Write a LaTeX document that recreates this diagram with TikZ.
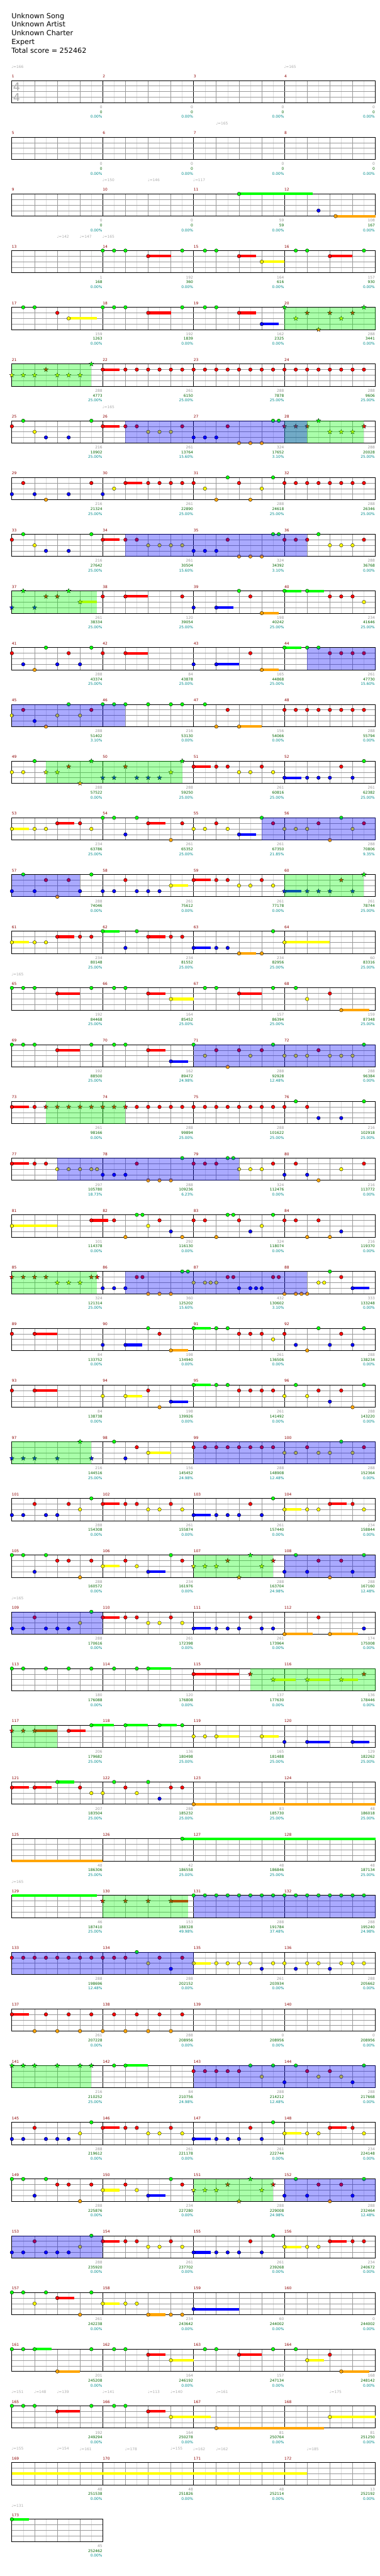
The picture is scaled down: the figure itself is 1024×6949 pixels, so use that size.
\documentclass[tikz,border=0pt]{standalone}
\usepackage{fontspec}
\setmainfont{DejaVu Sans}
\usetikzlibrary{shapes.geometric}
\definecolor{lane0}{RGB}{0,255,0}
\definecolor{lane1}{RGB}{255,0,0}
\definecolor{lane2}{RGB}{255,255,0}
\definecolor{lane3}{RGB}{0,0,255}
\definecolor{lane4}{RGB}{255,165,0}
\definecolor{mred}{RGB}{139,0,0}
\definecolor{mgrey}{RGB}{150,150,150}
\definecolor{mgreen}{RGB}{0,100,0}
\definecolor{mteal}{RGB}{0,139,139}

% notes of one row: position (16ths from row start) / lane
\newcommand\notes[2]{%
  \foreach \xu/\ly in {#2}{%
    \node[note, fill=lane\ly] (n#1-\xu-\ly) at ({32+15.3125*\xu},{217+153*#1+15*\ly}) {};}}
\newcommand\starnotes[2]{%
  \foreach \xu/\ly in {#2}{%
    \node[snote, fill=lane\ly] (s#1-\xu-\ly) at ({32+15.3125*\xu},{217+153*#1+15*\ly}) {};}}
% sustains: lane / start / end
\newcommand\holds[2]{%
  \foreach \ly/\xa/\xb in {#2}{%
    \fill[lane\ly] ({32+15.3125*\xa},{217+153*#1+15*\ly-3.5}) rectangle ({32+15.3125*\xb},{217+153*#1+15*\ly+3.5});}}
\newcommand\phrasebox[3]{\fill[spzone] ({32+15.3125*#2},{217+153*#1}) rectangle ({32+15.3125*#3},{277+153*#1});}
\newcommand\actbox[3]{\fill[actzone] ({32+15.3125*#2},{217+153*#1}) rectangle ({32+15.3125*#3},{277+153*#1});}

\begin{document}
\begin{tikzpicture}[x=1pt, y=-1pt,
  note/.style={circle, draw=black, line width=0.6pt, inner sep=0pt, minimum size=9.6pt},
  snote/.style={star, star points=5, star point ratio=2.4, draw=black, line width=0.5pt,
                inner sep=0pt, minimum size=13pt},
  halfline/.style={draw=black!13, line width=0.8pt},
  beatline/.style={draw=black!40, line width=1pt},
  barline/.style={draw=black, line width=1pt},
  staffbox/.style={draw=black, line width=1.3pt},
  spzone/.style={fill=lane0, fill opacity=0.333},
  actzone/.style={fill=lane3, fill opacity=0.333},
  title/.style={font=\fontsize{19}{23}\selectfont, anchor=base west, inner sep=0pt},
  mnum/.style={font=\fontsize{10}{12}\selectfont, text=mred, anchor=west, inner sep=0pt},
  msc/.style={font=\fontsize{10}{12}\selectfont, text=mgrey, anchor=east, inner sep=0pt},
  mcum/.style={font=\fontsize{10}{12}\selectfont, text=mgreen, anchor=east, inner sep=0pt},
  mpct/.style={font=\fontsize{10}{12}\selectfont, text=mteal, anchor=east, inner sep=0pt},
  tempo/.style={font=\fontsize{10}{12}\selectfont, text=black!33, anchor=west, inner sep=0pt},
  tsig/.style={font=\fontsize{30}{30}\selectfont, text=black!33, inner sep=0pt},
]
\useasboundingbox (0,0) rectangle (1024,6949);

% header
\node[title] (song) at (31,49.3) {Unknown Song};
\node[title] (artist) at (31,72.7) {Unknown Artist};
\node[title] (charter) at (31,96) {Unknown Charter};
\node[title] (diff) at (31,119.3) {Expert};
\node[title] (total) at (31,142.7) {Total score = 252462};

% staves
\foreach \r in {0,...,43}{
  \pgfmathtruncatemacro\nm{\r==43 ? 1 : 4}
  \pgfmathsetmacro\ty{217+153*\r}
  \pgfmathsetmacro\rx{32+245*\nm}
  \pgfmathtruncatemacro\nj{8*\nm-1}
  \foreach \j in {1,...,\nj}{
    \pgfmathtruncatemacro\jm{mod(\j,8)}
    \pgfmathtruncatemacro\jb{mod(\j,2)}
    \ifnum\jm=0 \def\gs{barline}\else\ifnum\jb=0 \def\gs{beatline}\else\def\gs{halfline}\fi\fi
    \draw[\gs] ({32+30.625*\j},\ty) -- ({32+30.625*\j},{\ty+60});
  }
  \foreach \k in {1,2,3}
    \draw[beatline] (32,{\ty+15*\k}) -- (\rx,{\ty+15*\k});
  \draw[staffbox] (32,\ty) rectangle (\rx,{\ty+60});
}
\node[tsig] (ts1) at (45,233.5) {4};
\node[tsig] (ts2) at (45,263.5) {4};

% tempo changes: row / position / bpm
\foreach \r/\xu/\tp in {0/0/166, 0/48/165, 1/36/165, 2/16/150, 2/24/146, 2/32/117,
    3/8/142, 3/12/147, 3/16/165, 6/16/165, 16/0/165, 27/0/165, 32/0/165,
    41/0/151, 41/4/148, 41/8/139, 41/16/141, 41/24/113, 41/28/140, 41/36/161, 41/56/175,
    42/0/155, 42/8/154, 42/12/161, 42/20/178, 42/28/155, 42/32/162, 42/36/162, 42/52/185,
    43/0/131} {
  \node[tempo] (t\r-\xu) at ({31+15.3125*\xu},{180+153*\r}) {♩=\tp};
}

% measure numbers and scores
\foreach \m/\ms/\cu/\pc in {1/0/0/0.00, 2/0/0/0.00, 3/0/0/0.00, 4/0/0/0.00,
    5/0/0/0.00, 6/0/0/0.00, 7/0/0/0.00, 8/0/0/0.00,
    9/0/0/0.00, 10/0/0/0.00, 11/59/59/0.00, 12/108/167/0.00,
    13/1/168/0.00, 14/192/360/0.00, 15/164/616/0.00, 16/157/930/0.00,
    17/159/1263/0.00, 18/192/1839/0.00, 19/162/2325/0.00, 20/288/3441/0.00,
    21/288/4773/25.00, 22/261/6150/25.00, 23/288/7878/25.00, 24/288/9606/25.00,
    25/216/10902/25.00, 26/261/13764/15.60, 27/324/17652/3.10, 28/288/20028/25.00,
    29/216/21324/25.00, 30/261/22890/25.00, 31/288/24618/25.00, 32/288/26346/25.00,
    33/216/27642/25.00, 34/261/30504/15.60, 35/324/34392/3.10, 36/288/36768/0.00,
    37/261/38334/25.00, 38/120/39054/25.00, 39/198/40242/25.00, 40/234/41646/25.00,
    41/288/43374/25.00, 42/84/43878/25.00, 43/165/44868/25.00, 44/261/47730/15.60,
    45/288/51402/3.10, 46/216/53130/0.00, 47/156/54066/0.00, 48/288/55794/0.00,
    49/288/57522/0.00, 50/288/59250/25.00, 51/261/60816/25.00, 52/261/62382/25.00,
    53/234/63786/25.00, 54/261/65352/25.00, 55/261/67350/21.85, 56/288/70806/9.35,
    57/288/74046/0.00, 58/261/75612/0.00, 59/261/77178/0.00, 60/261/78744/25.00,
    61/234/80148/25.00, 62/234/81552/25.00, 63/234/82956/25.00, 64/60/83316/25.00,
    65/192/84468/25.00, 66/164/85452/25.00, 67/157/86394/25.00, 68/159/87348/25.00,
    69/192/88500/25.00, 70/162/89472/24.98, 71/288/92928/12.48, 72/288/96384/0.00,
    73/261/98166/0.00, 74/288/99894/25.00, 75/288/101622/25.00, 76/216/102918/25.00,
    77/297/105780/18.73, 78/288/109236/6.23, 79/324/112476/0.00, 80/216/113772/0.00,
    81/101/114378/0.00, 82/292/116130/0.00, 83/324/118074/0.00, 84/216/119370/0.00,
    85/324/121314/25.00, 86/360/125202/15.60, 87/432/130602/3.10, 88/333/133248/0.00,
    89/84/133752/0.00, 90/198/134940/0.00, 91/261/136506/0.00, 92/288/138234/0.00,
    93/84/138738/0.00, 94/198/139926/0.00, 95/261/141492/0.00, 96/288/143220/0.00,
    97/216/144516/25.00, 98/156/145452/24.98, 99/288/148908/12.48, 100/288/152364/0.00,
    101/288/154308/0.00, 102/261/155874/0.00, 103/261/157440/0.00, 104/234/158844/0.00,
    105/288/160572/0.00, 106/234/161976/0.00, 107/288/163704/24.98, 108/288/167160/12.48,
    109/288/170616/0.00, 110/261/172398/0.00, 111/261/173964/0.00, 112/174/175008/0.00,
    113/180/176088/0.00, 114/120/176808/0.00, 115/137/177630/0.00, 116/136/178446/0.00,
    117/206/179682/25.00, 118/136/180498/25.00, 119/165/181488/25.00, 120/129/182262/25.00,
    121/207/183504/25.00, 122/288/185232/25.00, 123/83/185730/25.00, 124/48/186018/25.00,
    125/48/186306/25.00, 126/42/186558/25.00, 127/48/186846/25.00, 128/48/187134/25.00,
    129/46/187410/25.00, 130/153/188328/49.98, 131/288/191784/37.48, 132/288/195240/24.98,
    133/288/198696/12.48, 134/288/202152/0.00, 135/261/203934/0.00, 136/288/205662/0.00,
    137/261/207228/0.00, 138/288/208956/0.00, 139/0/208956/0.00, 140/0/208956/0.00,
    141/216/210252/25.00, 142/84/210756/24.98, 143/288/214212/12.48, 144/288/217668/0.00,
    145/288/219612/0.00, 146/261/221178/0.00, 147/261/222744/0.00, 148/234/224148/0.00,
    149/288/225876/0.00, 150/234/227280/0.00, 151/288/229008/24.98, 152/288/232464/12.48,
    153/288/235920/0.00, 154/261/237702/0.00, 155/261/239268/0.00, 156/234/240672/0.00,
    157/261/242238/0.00, 158/234/243642/0.00, 159/60/244002/0.00, 160/0/244002/0.00,
    161/201/245208/0.00, 162/164/246192/0.00, 163/157/247134/0.00, 164/168/248142/0.00,
    165/192/249294/0.00, 166/164/250278/0.00, 167/81/250764/0.00, 168/81/251250/0.00,
    169/48/251538/0.00, 170/48/251826/0.00, 171/48/252114/0.00, 172/13/252192/0.00,
    173/45/252462/0.00} {
  \pgfmathtruncatemacro\rr{div(\m-1,4)}
  \pgfmathtruncatemacro\kk{mod(\m-1,4)}
  \pgfmathsetmacro\xe{276+245*\kk}
  \pgfmathsetmacro\ty{217+153*\rr}
  \node[mnum] (m\m) at ({\xe-244},{\ty-11}) {\m};
  \node[msc] (a\m) at (\xe,{\ty+72}) {\ms};
  \node[mcum] (b\m) at (\xe,{\ty+85}) {\cu};
  \node[mpct] (c\m) at (\xe,{\ty+98}) {\pc\%};
}

% measures 9-12
\holds{2}{0/40/53, 4/57/64}
\notes{2}{40/0, 54/3, 57/4}
% measures 13-16
\holds{3}{1/24/28, 1/40/43, 2/44/48, 1/56/60}
\notes{3}{16/0,18/0,20/0,24/1,30/0,34/0,36/0,40/1,44/2,50/0,52/0,56/1,62/0}
% measures 17-20
\holds{4}{2/10/15, 1/24/28, 1/40/43, 3/44/47}
\notes{4}{2/0,4/0,8/1,10/2,16/0,18/0,20/0,24/1,30/0,34/0,36/0,40/1,44/3}
\starnotes{4}{48/0,50/2,52/1,54/4,56/1,58/2,60/1,62/0}
\phrasebox{4}{48}{64}
% measures 21-24
\holds{5}{1/16/19}
\starnotes{5}{0/2,2/2,4/2,6/1,8/2,10/2,12/2,14/0}
\notes{5}{16/1,20/1,22/1,24/1,26/1,28/1,30/1,32/1,34/1,36/1,38/1,40/1,42/1,44/1,46/1,48/1,50/1,52/1,54/1,56/1,58/1,60/1,62/1}
\phrasebox{5}{0}{14}
% measures 25-28
\holds{6}{1/16/19}
\notes{6}{0/1,2/0,4/2,6/3,10/3,14/0,16/1,20/1,22/1,24/2,26/2,28/2,30/1,32/3,34/3,36/3,38/1,40/4,42/4,44/4,46/0,47/0}
\starnotes{6}{48/1,50/1,52/1,54/0,56/2,58/2,60/2,62/1}
\phrasebox{6}{48}{62}
\actbox{6}{20}{52}
% measures 29-32
\holds{7}{1/20/23}
\notes{7}{0/3,2/1,4/3,6/4,10/3,14/1,16/3,18/2,20/1,24/1,26/1,28/1,30/1,32/1,34/2,36/4,38/0,40/1,42/4,44/2,46/0,48/1,50/1,52/1,54/1,56/1,58/1,60/1,62/1}
% measures 33-36
\holds{8}{1/16/19}
\notes{8}{0/1,2/0,4/2,6/3,10/3,14/0,16/1,20/1,22/1,24/2,26/2,28/2,30/2,32/3,34/3,36/3,38/1,40/4,42/4,44/4,46/0,47/0,48/1,50/1,52/1,54/0,56/2,58/2,60/2,62/1}
\actbox{8}{20}{52}
% measures 37-40
\holds{9}{2/12/15, 1/20/24, 3/36/39, 4/44/47, 0/48/51, 0/52/55}
\starnotes{9}{0/3,2/0,4/3,6/1,8/1,10/0,12/2}
\notes{9}{16/1,20/1,30/1,32/3,36/3,40/0,42/1,44/4,48/0,52/0,56/1,58/1,60/1,62/2}
\phrasebox{9}{0}{15}
% measures 41-44
\holds{10}{1/20/24, 3/36/40, 4/44/47, 0/48/51}
\notes{10}{0/1,2/3,4/4,6/0,8/3,10/1,12/3,14/0,16/1,20/1,32/3,36/3,42/1,44/4,48/0,52/0,54/0,56/1,58/1,60/1,62/1}
\actbox{10}{52}{64}
% measures 45-48
\holds{11}{4/40/44}
\notes{11}{0/2,2/1,4/3,6/4,8/2,10/0,12/2,14/1,16/0,18/0,20/0,24/0,28/0,30/0,34/0,36/4,38/1,40/4,48/1,50/1,52/1,54/1,56/1,58/1,60/1,62/1}
\actbox{11}{0}{20}
% measures 49-52
\holds{12}{1/32/35, 3/48/51}
\notes{12}{0/2,2/2,4/0,32/1,36/1,38/1,40/2,42/2,44/1,46/2,48/3,52/3,54/3,56/3,58/1,60/3,62/0}
\starnotes{12}{6/2,8/2,10/1,12/4,14/0,16/3,18/3,20/1,22/3,24/3,26/3,28/2,30/0}
\phrasebox{12}{6}{30}
% measures 53-56
\holds{13}{2/0/3, 1/8/11, 1/24/27, 3/40/43}
\notes{13}{0/2,4/2,6/2,8/1,12/1,14/2,16/0,18/0,20/3,22/0,24/1,28/4,30/1,32/2,34/2,36/1,38/2,40/3,44/0,46/1,48/2,50/2,52/2,54/1,56/4,58/0,60/2,62/1}
\actbox{13}{44}{64}
% measures 57-60
\holds{14}{2/28/31, 1/32/35, 3/48/51}
\notes{14}{0/3,2/0,4/3,6/1,8/4,10/1,12/3,14/0,16/3,18/3,20/1,22/3,24/3,26/3,28/2,32/1,36/1,38/1,40/2,42/2,44/1,46/2}
\starnotes{14}{48/3,52/3,54/3,56/3,58/1,60/3,62/0}
\actbox{14}{0}{12}
\phrasebox{14}{48}{62}
% measures 61-64
\holds{15}{2/0/3, 1/8/11, 0/16/19, 1/24/27, 3/32/35, 4/40/43, 2/48/56}
\notes{15}{0/2,4/2,6/2,8/1,12/1,14/1,16/0,20/3,22/0,24/1,28/1,30/1,32/3,36/3,38/3,40/4,44/4,46/0,48/2}
% measures 65-68
\holds{16}{1/8/12, 1/24/27, 2/28/32, 1/40/44, 4/58/63}
\notes{16}{0/0,2/0,4/0,8/1,14/0,18/0,20/0,24/1,28/2,34/0,36/0,40/1,46/0,50/0,52/2,56/1,58/4}
% measures 69-72
\holds{17}{1/8/12, 1/24/27, 3/28/31}
\notes{17}{0/0,2/0,4/0,8/1,14/0,18/0,20/0,24/1,28/3,32/0,34/2,36/1,38/4,40/1,42/2,44/1,46/0,48/2,50/2,52/2,54/1,56/2,58/2,60/2,62/0}
\actbox{17}{32}{64}
% measures 73-76
\holds{18}{1/0/3}
\notes{18}{0/1,4/1,22/1,24/1,26/1,28/1,30/1,32/1,34/1,36/1,38/1,40/1,42/1,44/1,46/1,48/1,50/0,52/1,54/3,58/3,62/0}
\starnotes{18}{6/1,8/1,10/1,12/1,14/1,16/1,18/1,20/1}
\phrasebox{18}{6}{20}
% measures 77-80
\holds{19}{1/0/3}
\notes{19}{0/1,4/1,6/1,8/2,10/2,12/2,14/2,15/2,16/3,18/3,20/3,22/1,24/4,26/4,28/4,30/0,32/1,34/1,36/1,38/0,39/0,40/2,42/2,44/2,46/1,48/3,50/1,52/3,54/4,58/2,62/1}
\actbox{19}{8}{40}
% measures 81-84
\holds{20}{2/0/8, 1/14/17}
\notes{20}{0/2,14/1,18/1,20/4,22/0,23/0,24/2,26/1,28/3,30/4,32/1,34/1,36/4,38/0,39/0,40/1,42/3,44/2,46/0,48/1,50/1,52/4,54/1,56/4,58/3}
% measures 85-88
\holds{21}{3/60/63}
\starnotes{21}{0/1,2/1,4/1,6/1,8/2,10/2,12/2,14/1,15/1}
\notes{21}{16/3,18/3,20/3,22/1,23/1,24/4,26/4,28/4,30/0,31/0,32/2,34/2,35/2,36/2,38/1,39/1,40/3,42/3,43/3,44/3,46/1,47/1,48/4,50/4,51/4,52/4,54/2,55/2,56/0,58/1,60/3}
\phrasebox{21}{0}{15}
\actbox{21}{20}{52}
% measures 89-92
\holds{22}{1/4/8, 3/20/23, 4/28/31, 0/32/35}
\notes{22}{0/1,4/1,16/3,20/3,24/0,26/1,28/4,32/0,36/0,38/0,40/1,42/1,44/1,46/2,48/1,50/3,52/4,54/0,56/3,58/1,60/3,62/0}
% measures 93-96
\holds{23}{1/4/8, 2/20/23, 3/28/31, 0/32/35}
\notes{23}{0/1,4/1,16/2,20/2,24/1,26/4,28/3,32/0,36/0,38/0,40/1,42/1,44/1,46/1,48/2,50/0,52/2,54/1,56/3,58/1,60/4,62/0}
% measures 97-100
\holds{24}{2/24/28}
\starnotes{24}{0/3,2/3,4/3,8/3,12/0,14/3}
\notes{24}{18/0,20/3,22/1,24/2,32/1,34/1,36/1,38/1,40/1,42/1,44/1,46/1,48/2,50/2,52/1,54/2,56/2,58/0,60/2,62/1}
\phrasebox{24}{0}{14}
\actbox{24}{32}{64}
% measures 101-104
\holds{25}{1/16/19, 3/32/35, 2/48/51, 1/56/59}
\notes{25}{0/3,2/3,4/1,6/3,8/3,10/1,12/2,14/0,16/1,20/1,22/1,24/2,26/2,28/1,30/2,32/3,36/3,38/3,40/3,42/1,44/3,46/0,48/2,52/2,54/2,56/1,60/1,62/2}
% measures 105-108
\holds{26}{2/16/19, 3/24/27}
\notes{26}{0/0,2/0,4/3,6/0,8/1,10/1,12/4,14/1,16/2,20/1,22/2,24/3,28/0,30/1,48/3,50/0,52/3,54/1,56/4,58/1,60/3,62/0}
\starnotes{26}{32/2,34/2,36/2,38/1,40/4,42/0,44/2,46/1}
\phrasebox{26}{32}{46}
\actbox{26}{48}{64}
% measures 109-112
\holds{27}{1/16/19, 3/32/35, 4/48/53, 4/56/61}
\notes{27}{0/3,2/3,4/1,6/3,8/3,10/3,12/2,14/0,16/1,20/1,22/1,24/2,26/2,28/1,30/2,32/3,36/3,38/3,40/3,42/1,44/3,46/3,48/4,54/1,56/4,62/3}
\actbox{27}{0}{16}
% measures 113-116
\holds{28}{0/24/28, 1/32/40, 2/46/50, 2/52/56, 2/58/61}
\notes{28}{0/0,2/0,6/0,10/0,14/0,18/0,22/0,24/0,32/1}
\starnotes{28}{42/1,46/2,52/2,58/2,62/1}
\phrasebox{28}{42}{64}
% measures 117-120
\holds{29}{1/4/8, 1/10/13, 0/14/18, 0/20/24, 0/26/29, 2/36/40, 2/44/47, 3/52/56, 3/60/63}
\starnotes{29}{0/1,2/1,4/1}
\notes{29}{10/1,14/0,20/0,26/0,30/0,32/2,34/2,36/2,44/2,48/3,52/3,60/3}
\phrasebox{29}{0}{8}
% measures 121-124
\holds{30}{1/0/3, 1/4/7, 0/8/11, 4/32/64}
\notes{30}{0/1,4/1,8/0,12/1,14/2,16/2,18/0,20/1,22/2,24/0,26/3,28/1,30/1,32/4}
% measures 125-128
\holds{31}{4/0/16, 0/30/64}
\notes{31}{30/0}
% measures 129-132
\holds{32}{0/0/15, 1/28/31}
\starnotes{32}{16/1,20/1,24/1,28/1}
\notes{32}{32/0,34/0,36/0,38/0,40/0,42/0,44/0,46/0,48/0,50/0,52/0,54/0,56/0,58/0,60/0,62/0}
\phrasebox{32}{16}{31}
\actbox{32}{32}{64}
% measures 133-136
\holds{33}{2/32/35}
\notes{33}{0/1,2/1,4/1,6/1,8/1,10/1,12/1,14/1,16/1,18/1,20/1,22/0,24/2,26/1,28/3,30/1,32/2,36/2,38/2,40/2,42/2,44/3,46/2,48/2,50/3,52/2,54/2,56/3,58/2,60/2,62/2}
\actbox{33}{0}{32}
% measures 137-140
\holds{34}{1/0/3}
\notes{34}{0/1,4/4,6/1,8/4,10/1,12/4,14/1,16/4,18/1,20/4,22/1,24/4,26/1,28/4,30/1}
% measures 141-144
\holds{35}{0/20/24}
\starnotes{35}{0/0,2/0,4/0,8/0,12/0,14/0}
\notes{35}{18/0,20/0,32/1,34/1,36/1,38/1,40/1,42/0,44/2,46/0,48/3,50/0,52/1,54/2,56/1,58/2,60/3,62/0}
\phrasebox{35}{0}{14}
\actbox{35}{32}{64}
% measures 145-148
\holds{36}{1/16/19, 3/32/35, 2/48/51, 1/56/59}
\notes{36}{0/3,2/3,4/1,6/3,8/3,10/3,12/2,14/0,16/1,20/1,22/1,24/2,26/2,28/1,30/2,32/3,36/3,38/3,40/3,42/1,44/3,46/0,48/2,52/2,54/2,56/1,60/1,62/2}
% measures 149-152
\holds{37}{2/16/19, 3/24/27}
\notes{37}{0/0,2/0,4/3,6/0,8/1,10/1,12/4,14/1,16/2,20/1,22/2,24/3,28/0,30/1,48/3,50/0,52/3,54/1,56/4,58/1,60/3,62/0}
\starnotes{37}{32/2,34/2,36/2,38/1,40/4,42/0,44/2,46/1}
\phrasebox{37}{32}{46}
\actbox{37}{48}{64}
% measures 153-156
\holds{38}{1/16/19, 3/32/35, 2/48/51, 1/56/59}
\notes{38}{0/3,2/3,4/1,6/3,8/3,10/3,12/2,14/0,16/1,20/1,22/1,24/2,26/2,28/1,30/2,32/3,36/3,38/3,40/3,42/1,44/3,46/0,48/2,52/2,54/2,56/1,60/1,62/1}
\actbox{38}{0}{16}
% measures 157-160
\holds{39}{1/8/11, 2/16/19, 4/24/27, 3/32/40}
\notes{39}{0/0,2/0,4/2,6/0,8/1,12/4,14/0,16/2,20/2,22/2,24/4,28/4,30/4,32/3}
% measures 161-164
\holds{40}{0/4/7, 4/8/12, 1/24/27, 2/28/32, 1/40/44, 2/52/55, 4/58/63}
\notes{40}{0/0,2/0,4/0,8/4,14/0,18/0,20/0,24/1,28/2,34/0,36/0,40/1,46/0,50/0,52/2,56/1,58/4}
% measures 165-168
\holds{41}{1/8/12, 1/24/27, 2/28/35, 4/36/55, 2/56/64}
\notes{41}{0/0,2/0,4/0,8/1,14/0,18/0,20/0,24/1,28/2,36/4,56/2}
% measures 169-172
\holds{42}{2/0/52}
% measure 173
\holds{43}{0/0/3}
\notes{43}{0/0}
\end{tikzpicture}
\end{document}
